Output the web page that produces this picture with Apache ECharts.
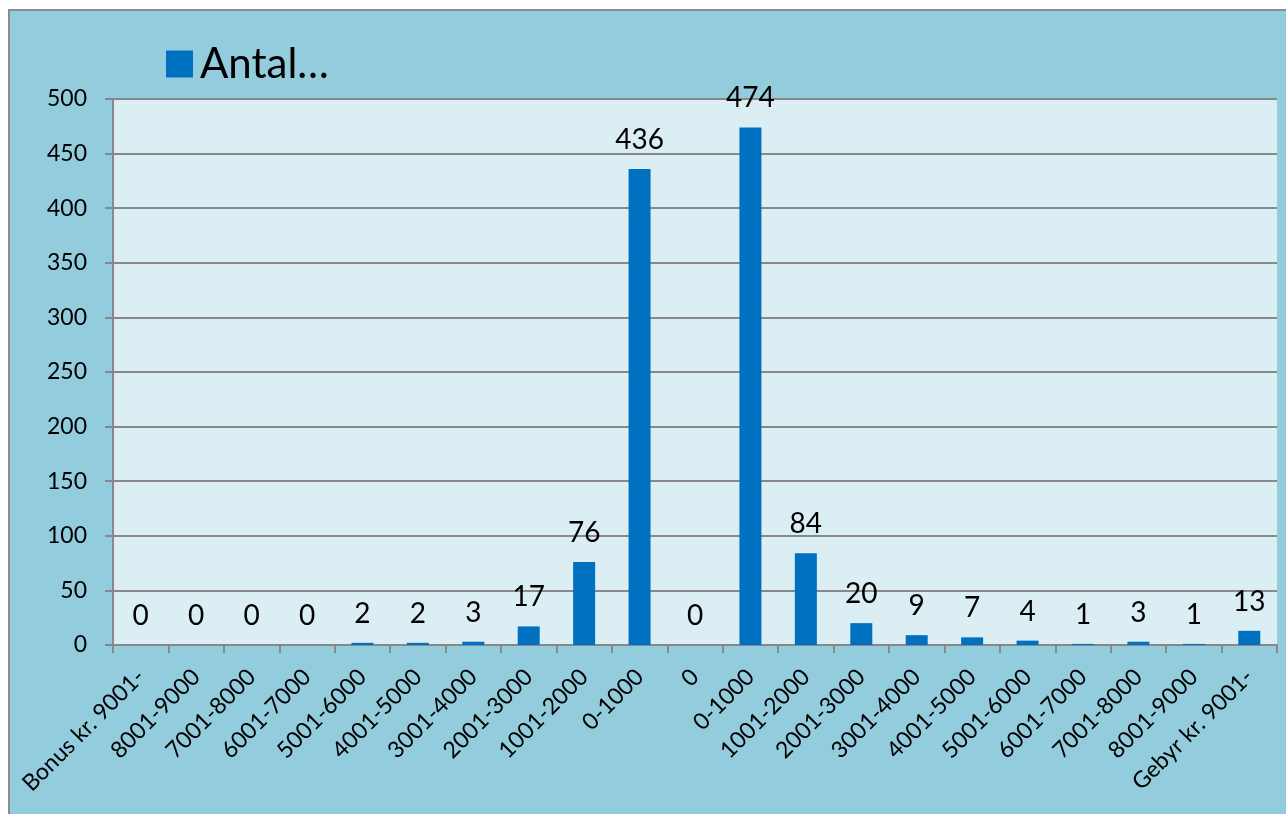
<!DOCTYPE html>
<html><head><meta charset="utf-8">
<script src="https://cdn.jsdelivr.net/npm/echarts@6/dist/echarts.min.js"></script>
<style>html,body{margin:0;padding:0;background:#fff}#c{width:1286px;height:814px}</style>
</head><body><div id="c"></div>
<script>
const categories = ["Bonus kr. 9001-","8001-9000","7001-8000","6001-7000","5001-6000","4001-5000","3001-4000","2001-3000","1001-2000","0-1000","0","0-1000","1001-2000","2001-3000","3001-4000","4001-5000","5001-6000","6001-7000","7001-8000","8001-9000","Gebyr kr. 9001-"];
const antal = [0,0,0,0,2,2,3,17,76,436,0,474,84,20,9,7,4,1,3,1,13];
const seriesName = "Antal…";
const FONT = "Lato";
const chart = echarts.init(document.getElementById('c'), null, {renderer:'canvas'});
chart.setOption({
  animation:false,
  backgroundColor:'#ffffff',
  textStyle:{fontFamily:FONT},
  graphic:[{type:'rect',z:-10,shape:{x:9,y:10,width:1290,height:820},style:{fill:'#92CCDD',stroke:'#8c8c8c',lineWidth:2}}],
  legend:{left:161,top:38,itemWidth:27,itemHeight:27,itemGap:10,icon:'rect',
    textStyle:{fontSize:42,color:'#000',fontFamily:FONT,padding:[0,0,0,2]},data:[seriesName]},
  grid:{left:113,right:9,top:99,bottom:169,show:true,backgroundColor:'#DAEEF3',borderWidth:0,containLabel:false},
  xAxis:{type:'category',data:categories,
    axisLine:{lineStyle:{color:'#888',width:2}},
    axisTick:{show:true,length:8,lineStyle:{color:'#888',width:2}},
    axisLabel:{rotate:45,interval:0,fontSize:23,color:'#000',margin:28,fontFamily:FONT}},
  yAxis:{type:'value',min:0,max:500,interval:50,
    axisLine:{show:true,lineStyle:{color:'#888',width:2}},
    axisTick:{show:true,length:8,lineStyle:{color:'#888',width:2}},
    splitLine:{lineStyle:{color:'#888',width:2}},
    axisLabel:{fontSize:23,color:'#000',margin:26,fontFamily:FONT}},
  series:[{name:seriesName,type:'bar',data:antal,barWidth:22,
    itemStyle:{color:'#0070C0'},
    label:{show:true,position:'top',distance:15,fontSize:28,color:'#000',fontFamily:FONT}}]
});
</script></body></html>
